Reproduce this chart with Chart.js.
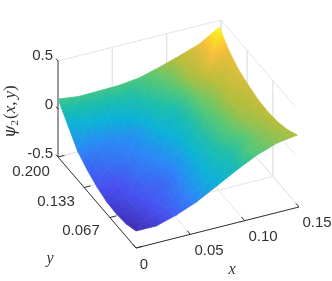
<!DOCTYPE html>
<html>
<head>
<meta charset="utf-8">
<script src="https://cdn.jsdelivr.net/npm/chart.js@4"></script>
<style>
html,body{margin:0;padding:0;background:#fff;overflow:hidden}
canvas{display:block}
</style>
</head>
<body>
<canvas id="chart" width="332" height="281"></canvas>
<script>
// surface height, one row per y value
var xValues = [0, 0.0186, 0.0371, 0.0557, 0.0743, 0.0928, 0.1114, 0.13, 0.1485];
var yValues = [0, 0.025, 0.05, 0.075, 0.1, 0.125, 0.15, 0.175, 0.2];
var psiRows = [
    [-0.323, -0.324, -0.263, -0.179, -0.066, 0.048, 0.151, 0.224, 0.254],
    [-0.369, -0.372, -0.316, -0.24, -0.137, -0.028, 0.071, 0.146, 0.19],
    [-0.383, -0.388, -0.338, -0.272, -0.178, -0.075, 0.022, 0.097, 0.153],
    [-0.376, -0.384, -0.339, -0.281, -0.197, -0.10, -0.007, 0.07, 0.139],
    [-0.339, -0.349, -0.312, -0.264, -0.191, -0.101, -0.013, 0.064, 0.145],
    [-0.28, -0.292, -0.263, -0.223, -0.161, -0.078, 0.007, 0.085, 0.177],
    [-0.20, -0.216, -0.194, -0.166, -0.115, -0.04, 0.039, 0.116, 0.22],
    [-0.048, -0.073, -0.063, -0.049, -0.014, 0.049, 0.118, 0.19, 0.30],
    [0.104, 0.077, 0.081, 0.086, 0.111, 0.168, 0.234, 0.307, 0.43]
];
// colour index of the same points (0 to 1 along the colormap)
var colorRows = [
    [0.02, 0.07, 0.16, 0.25, 0.36, 0.47, 0.60, 0.69, 0.75],
    [0.03, 0.08, 0.15, 0.24, 0.36, 0.44, 0.60, 0.68, 0.74],
    [0.05, 0.09, 0.15, 0.22, 0.34, 0.46, 0.56, 0.68, 0.76],
    [0.08, 0.11, 0.16, 0.20, 0.32, 0.46, 0.59, 0.70, 0.77],
    [0.125, 0.13, 0.19, 0.24, 0.32, 0.47, 0.60, 0.72, 0.78],
    [0.17, 0.19, 0.22, 0.27, 0.35, 0.47, 0.62, 0.74, 0.80],
    [0.25, 0.24, 0.26, 0.30, 0.41, 0.49, 0.65, 0.75, 0.83],
    [0.37, 0.38, 0.39, 0.42, 0.50, 0.59, 0.72, 0.82, 0.85],
    [0.58, 0.56, 0.57, 0.58, 0.60, 0.68, 0.77, 0.84, 1.0]
];
var xTicks = [0, 0.05, 0.10, 0.15];
var yTicks = [0, 0.067, 0.133, 0.2];
var zTicks = [-0.5, 0, 0.5];

var parula = [
    [62, 38, 168], [71, 80, 240], [45, 134, 247], [12, 178, 215], [30, 190, 170],
    [90, 200, 115], [180, 190, 60], [250, 190, 60], [249, 250, 20]
];

// view of the box: screen vector per data unit
function project(x, y, z) {
    return {
        x: 136 + x / 0.15 * 163 - y / 0.2 * 78,
        y: 248 - x / 0.15 * 41 - y / 0.2 * 91 - (z + 0.5) * 96
    };
}

function colorAt(t) {
    var p = Math.max(0, Math.min(1, t)) * (parula.length - 1);
    var i = Math.min(parula.length - 2, Math.floor(p));
    var f = p - i, a = parula[i], b = parula[i + 1];
    return 'rgb(' + (a[0] + (b[0] - a[0]) * f).toFixed(0) + ',' + (a[1] + (b[1] - a[1]) * f).toFixed(0) + ',' + (a[2] + (b[2] - a[2]) * f).toFixed(0) + ')';
}

// gradient that shades one triangle from its three corner values
function triShade(chart, v) {
    var sx = chart.scales.x, sy = chart.scales.y;
    var p = v.map(function (q) {
        return { x: sx.getPixelForValue(q.x), y: sy.getPixelForValue(q.y), c: q.c };
    });
    p.sort(function (a, b) { return a.c - b.c; });
    var ax = p[1].x - p[0].x, ay = p[1].y - p[0].y, ac = p[1].c - p[0].c;
    var bx = p[2].x - p[0].x, by = p[2].y - p[0].y, bc = p[2].c - p[0].c;
    var det = ax * by - ay * bx;
    // scales have no size yet on the first options pass
    if (!isFinite(det) || Math.abs(det) < 1e-6 || bc < 1e-6) return colorAt(p[0].c);
    var gx = (ac * by - bc * ay) / det, gy = (bc * ax - ac * bx) / det;
    var n = gx * gx + gy * gy;
    var x1 = p[0].x + gx / n * bc, y1 = p[0].y + gy / n * bc;
    var g = chart.ctx.createLinearGradient(p[0].x, p[0].y, x1, y1);
    for (var k = 0; k <= 8; k++) {
        g.addColorStop(k / 8, colorAt(p[0].c + bc * k / 8));
    }
    return g;
}

function corner(a, b) {
    var q = project(xValues[a], yValues[b], psiRows[b][a]);
    q.c = colorRows[b][a];
    return q;
}

var tris = [];
for (var j = 0; j < yValues.length - 1; j++) {
    for (var i = 0; i < xValues.length - 1; i++) {
        var a = corner(i, j), b = corner(i + 1, j), c = corner(i + 1, j + 1), d = corner(i, j + 1);
        tris.push({ v: [a, b, c], depth: xValues[i] + yValues[j] * 0.75 });
        tris.push({ v: [a, c, d], depth: xValues[i] + yValues[j] * 0.75 + 0.0001 });
    }
}
// nearest first: chart.js paints the first dataset last
tris.sort(function (p, q) { return p.depth - q.depth; });

var datasets = tris.map(function (t) {
    var shade = function (ctx) { return triShade(ctx.chart, t.v); };
    return {
        data: [t.v[0], t.v[1], t.v[2], t.v[0]],
        showLine: true,
        fill: 'shape',
        backgroundColor: shade,
        borderColor: shade,
        borderWidth: 0.7,
        pointRadius: 0,
        tension: 0
    };
});

function addLine(from, to, color, width) {
    datasets.push({
        data: [from, to],
        showLine: true,
        fill: false,
        borderColor: color,
        borderWidth: width,
        pointRadius: 0
    });
}

var axisColor = '#333333', gridColor = '#e4e4e4';
var xEnd = 0.15, yEnd = 0.2, zLow = -0.5, zTop = 0.5;

// axis lines and tick marks
addLine(project(0, 0, zLow), project(xEnd, 0, zLow), axisColor, 1);
addLine(project(0, 0, zLow), project(0, yEnd, zLow), axisColor, 1);
addLine(project(0, yEnd, zLow), project(0, yEnd, zTop), axisColor, 1);
xTicks.forEach(function (v) {
    addLine(project(v, 0, zLow), project(v, 0.008, zLow), axisColor, 1);
});
yTicks.forEach(function (v) {
    addLine(project(0, v, zLow), project(0.006, v, zLow), axisColor, 1);
});
zTicks.forEach(function (v) {
    addLine(project(0, yEnd, v), project(0, yEnd + 0.005, v), axisColor, 1);
});

// floor and wall grid
xTicks.forEach(function (v) {
    addLine(project(v, 0, zLow), project(v, yEnd, zLow), gridColor, 1);
    if (v > 0) addLine(project(v, yEnd, zLow), project(v, yEnd, zTop), gridColor, 1.4);
});
yTicks.forEach(function (v) {
    addLine(project(0, v, zLow), project(xEnd, v, zLow), gridColor, 1);
    if (v > 0) addLine(project(xEnd, v, zLow), project(xEnd, v, zTop), gridColor, 1.4);
});
zTicks.forEach(function (v) {
    addLine(project(0, yEnd, v), project(xEnd, yEnd, v), gridColor, 1);
    addLine(project(xEnd, yEnd, v), project(xEnd, 0.009, v), gridColor, 1);
});

var tickFont = '15px "Liberation Sans"', textColor = '#333333';
var labels = [
    { t: '0.5', x: 53, y: 56, a: 'right' },
    { t: '0', x: 53, y: 105, a: 'right' },
    { t: '-0.5', x: 53, y: 154, a: 'right' },
    { t: '0.200', x: 31, y: 172, a: 'center' },
    { t: '0.133', x: 56, y: 202, a: 'center' },
    { t: '0.067', x: 81, y: 231, a: 'center' },
    { t: '0', x: 144, y: 265, a: 'center' },
    { t: '0.05', x: 209, y: 251, a: 'center' },
    { t: '0.10', x: 263, y: 237, a: 'center' },
    { t: '0.15', x: 317, y: 223, a: 'center' }
];

var textPlugin = {
    id: 'axisText',
    afterDraw: function (chart) {
        var c = chart.ctx;
        c.save();
        c.fillStyle = textColor;
        c.textBaseline = 'middle';
        c.font = tickFont;
        labels.forEach(function (l) {
            c.textAlign = l.a;
            c.fillText(l.t, l.x, l.y);
        });
        c.textAlign = 'center';
        c.font = 'italic 16px "Liberation Serif"';
        c.fillText('x', 232, 270);
        c.fillText('y', 50, 259);
        c.translate(11, 138);
        c.rotate(-Math.PI / 2);
        c.textAlign = 'left';
        c.font = 'italic 16px "DejaVu Serif"';
        c.fillText('\u03C8', 0, 0);
        var w = c.measureText('\u03C8').width;
        c.font = '11px "Liberation Serif"';
        c.fillText('2', w, 4);
        w += c.measureText('2').width + 1;
        c.font = '17px "Liberation Serif"';
        c.fillText('(', w, 0);
        w += c.measureText('(').width;
        c.font = 'italic 17px "Liberation Serif"';
        c.fillText('x', w, 0);
        w += c.measureText('x').width;
        c.font = '17px "Liberation Serif"';
        c.fillText(',', w, 0);
        w += c.measureText(',').width + 3;
        c.font = 'italic 17px "Liberation Serif"';
        c.fillText('y', w, 0);
        w += c.measureText('y').width;
        c.font = '17px "Liberation Serif"';
        c.fillText(')', w, 0);
        c.restore();
    }
};

new Chart(document.getElementById('chart'), {
    type: 'scatter',
    data: { datasets: datasets },
    options: {
        responsive: false,
        animation: false,
        layout: { padding: 0 },
        plugins: { legend: { display: false }, tooltip: { enabled: false } },
        scales: {
            x: { type: 'linear', min: 0, max: 332, display: false },
            y: { type: 'linear', min: 0, max: 281, reverse: true, display: false }
        }
    },
    plugins: [textPlugin]
});
</script>
</body>
</html>
